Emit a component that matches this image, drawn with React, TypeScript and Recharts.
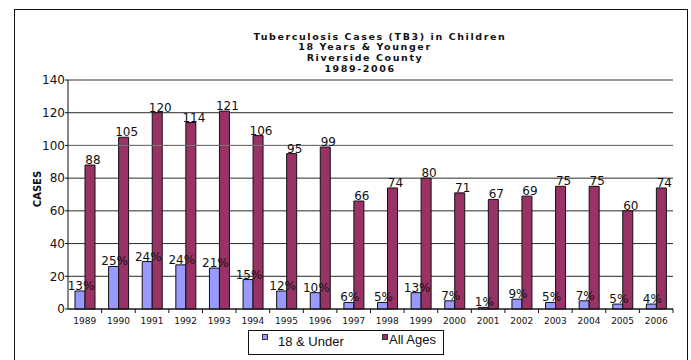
import React from "react";
import { Bar, BarChart, CartesianGrid, LabelList, ReferenceLine, XAxis, YAxis } from "recharts";

const years = ["1989", "1990", "1991", "1992", "1993", "1994", "1995", "1996", "1997", "1998", "1999", "2000", "2001", "2002", "2003", "2004", "2005", "2006"];
const under18 = [11, 26, 29, 27, 25, 18, 11, 10, 4, 4, 10, 5, 1, 6, 4, 5, 3, 3];
const under18Pct = ["13%", "25%", "24%", "24%", "21%", "15%", "12%", "10%", "6%", "5%", "13%", "7%", "1%", "9%", "5%", "7%", "5%", "4%"];
const allAges = [88, 105, 120, 114, 121, 106, 95, 99, 66, 74, 80, 71, 67, 69, 75, 75, 60, 74];
const yTicks = [0, 20, 40, 60, 80, 100, 120, 140];
const titleLines = ["Tuberculosis Cases (TB3) in Children", "18 Years & Younger", "Riverside County", "1989-2006"];

const BLUE = "#9999ff";
const MAROON = "#993366";
const INK = "#111111";
const GRID = "#2a2a2a";
const SOFT = "#9a9a9a";
const FONT = "'DejaVu Sans', sans-serif";
const LEGEND_FONT = "'Liberation Sans', Arial, sans-serif";

const data = years.map((year, i) => ({
  year,
  under18: under18[i],
  pct: under18Pct[i],
  all: allAges[i],
}));

function YearTick(props: any) {
  const { x, y, payload } = props;
  const half = payload?.offset ?? 16.8;
  return (
    <g>
      <line x1={x + half} x2={x + half} y1={y} y2={y + 4} stroke={INK} />
      <text x={x} y={y + 15} textAnchor="middle" fontSize={9} fontFamily={FONT} fill={INK}>
        {payload.value}
      </text>
    </g>
  );
}

function makeLabel(dx: number) {
  return (props: any) => {
    const { x, y, width, value } = props;
    return (
      <text x={x + width / 2 + dx} y={y - 1} textAnchor="middle" fontSize={12} fontFamily={FONT} fill={INK}>
        {value}
      </text>
    );
  };
}

export default function App() {
  return (
    <div style={{ position: "absolute", left: 0, top: 0, width: 691, height: 360, background: "#fff", overflow: "hidden" }}>
      <BarChart
        width={691}
        height={360}
        data={data}
        margin={{ top: 80, right: 18, left: 18, bottom: 31 }}
        barSize={10}
        barGap={0}
      >
        <CartesianGrid vertical={false} stroke={GRID} />
        <XAxis
          dataKey="year"
          height={20}
          axisLine={{ stroke: INK }}
          tickLine={false}
          tickSize={0}
          tickMargin={0}
          interval={0}
          tick={<YearTick />}
        />
        <YAxis
          width={50}
          domain={[0, 140]}
          ticks={yTicks}
          axisLine={{ stroke: INK }}
          tickLine={{ stroke: INK }}
          tickSize={3}
          tickMargin={0}
          tick={{ fontSize: 12, fontFamily: FONT, fill: INK }}
        />
        <YAxis
          yAxisId="right"
          orientation="right"
          width={0}
          domain={[0, 140]}
          tick={false}
          tickLine={false}
          axisLine={{ stroke: SOFT }}
        />
        <ReferenceLine y={140} stroke={SOFT} />
        <ReferenceLine y={100} stroke="#777" />
        <Bar dataKey="under18" fill={BLUE} stroke={INK} strokeWidth={1} isAnimationActive={false}>
          <LabelList dataKey="pct" content={makeLabel(1)} />
        </Bar>
        <Bar dataKey="all" fill={MAROON} stroke={INK} strokeWidth={1} isAnimationActive={false}>
          <LabelList dataKey="all" content={makeLabel(3)} />
        </Bar>
      </BarChart>

      <svg width={691} height={360} style={{ position: "absolute", left: 0, top: 0, pointerEvents: "none" }}>
        <rect x={14.5} y={9.5} width={673} height={400} fill="none" stroke={INK} />
        <g fontFamily={FONT} fontWeight="bold" fontSize={9.5} letterSpacing={1.6} fill={INK}>
          <text x={380} y={39.5} textAnchor="middle">{titleLines[0]}</text>
          <text x={365} y={50} textAnchor="middle">{titleLines[1]}</text>
          <text x={365} y={61} textAnchor="middle">{titleLines[2]}</text>
          <text x={360} y={72} textAnchor="middle">{titleLines[3]}</text>
        </g>
        <text
          x={41}
          y={189}
          transform="rotate(-90 41 189)"
          textAnchor="middle"
          fontFamily={FONT}
          fontWeight="bold"
          fontSize={10}
          fill={INK}
        >
          CASES
        </text>
        <rect x={248.5} y={330.5} width={195} height={24} fill="#fff" stroke={INK} />
        <rect x={262.5} y={334.5} width={5} height={5} fill={BLUE} stroke="#333" />
        <text x={278} y={346} fontFamily={LEGEND_FONT} fontSize={13} fill={INK}>18 &amp; Under</text>
        <rect x={382.5} y={334.5} width={5} height={5} fill={MAROON} stroke="#333" />
        <text x={389} y={344} fontFamily={LEGEND_FONT} fontSize={13} fill={INK}>All Ages</text>
      </svg>
    </div>
  );
}
